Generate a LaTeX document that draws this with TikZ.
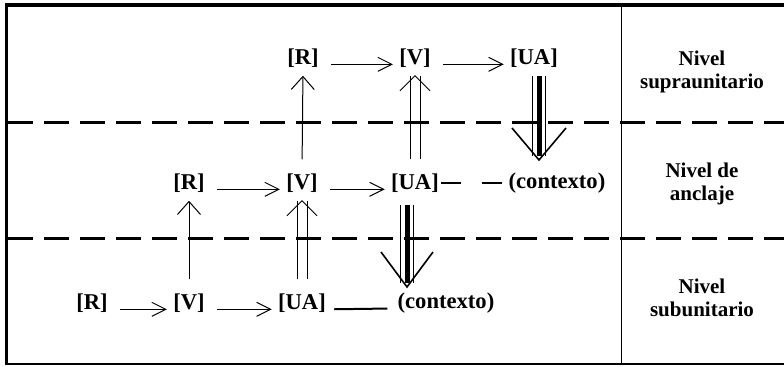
\documentclass[tikz,border=0pt]{standalone}
\usepackage{fontspec}
\setmainfont{Liberation Serif}
\usetikzlibrary{arrows.meta}

\begin{document}
\begin{tikzpicture}[x=0.5pt,y=-0.5pt,
  unit/.style={font=\fontsize{11.3}{13}\selectfont\bfseries,inner sep=1pt},
  level/.style={font=\fontsize{10.5}{11.5}\selectfont\bfseries,align=center},
  harrow/.style={-{Straight Barb[length=7pt,width=7pt]},line width=.5pt,shorten <=5pt,shorten >=2pt},
  varrow/.style={-{Straight Barb[length=6.5pt,width=11.5pt]},line width=.5pt,shorten <=6pt,shorten >=3pt},
  dblline/.style={double,double distance=4.5pt,line width=.5pt,shorten <=6pt,shorten >=3pt},
  heavy/.style={double,double distance=6pt,line width=.6pt,shorten <=3pt},
  core/.style={line width=2.5pt,shorten <=3pt},
  divider/.style={dash pattern=on 12.5pt off 5.5pt,line width=1.5pt}]

  \useasboundingbox (0,0) rectangle (784,366);

  % frame
  \draw[line width=2pt] (5,5) -- (784,5);
  \draw[line width=1.5pt] (6,4) -- (6,365);
  \draw[line width=1pt] (6,364) -- (784,364);
  \draw[line width=.5pt] (621,5) -- (621,364);

  % supraunitario
  \node[unit] (rt) at (303,58) {[R]};
  \node[unit] (vt) at (415,58) {[V]};
  \node[unit] (uat) at (534,58) {[UA]};
  % anclaje
  \node[unit] (rm) at (189,183) {[R]};
  \node[unit] (vm) at (302,183) {[V]};
  \node[unit] (uam) at (415,183) {[UA]};
  \node[unit] (cm) at (557,183) {(contexto)};
  % subunitario
  \node[unit] (rb) at (92,303) {[R]};
  \node[unit] (vb) at (189,303) {[V]};
  \node[unit] (uab) at (302,303) {[UA]};
  \node[unit] (cb) at (446,303) {(contexto)};

  % levels
  \node[level] (sup) at (702,72) {Nivel\\supraunitario};
  \node[level] (anc) at (702,184) {Nivel de\\anclaje};
  \node[level] (sub) at (702,298) {Nivel\\subunitario};

  % horizontal
  \draw[harrow] (rt.base east) -- (vt.base west);
  \draw[harrow] (vt.base east) -- (uat.base west);
  \draw[harrow] (rm.base east) -- (vm.base west);
  \draw[harrow] (vm.base east) -- (uam.base west);
  \draw[harrow] (rb.base east) -- (vb.base west);
  \draw[harrow] (vb.base east) -- (uab.base west);
  \draw[line width=1pt,dash pattern=on 10pt off 10.5pt] (uam.east) -- (cm.west);
  \draw[line width=1pt,shorten <=3pt,shorten >=4pt] (uab.base east) -- (cb.base west);

  % upwards
  \draw[varrow] (vm.north) -- (rt.south);
  \draw[varrow] (vb.north) -- (rm.south);
  \draw[dblline] (uam.north) -- (vt.south);
  \draw[line width=.5pt] ([yshift=-3pt]vt.south) ++(-15,15) -- ++(15,-15) -- ++(15,15);
  \draw[dblline] (uab.north) -- (vm.south);
  \draw[line width=.5pt] ([yshift=-3pt]vm.south) ++(-15,15) -- ++(15,-15) -- ++(15,15);

  % downwards
  \coordinate (tipa) at (539,160);
  \coordinate (tipb) at (407,287);
  \draw[heavy] (uat.south -| tipa) -- ([yshift=2pt]tipa);
  \draw[core] (uat.south -| tipa) -- ([yshift=2pt]tipa);
  \draw[line width=.8pt] (tipa) ++(-27,-32) -- ++(27,32) -- ++(27,-32);
  \draw[heavy,shorten <=5pt] (uam.south -| tipb) -- ([yshift=2pt]tipb);
  \draw[core,shorten <=5pt] (uam.south -| tipb) -- ([yshift=2pt]tipb);
  \draw[line width=.8pt] (tipb) ++(-26,-35) -- ++(26,35) -- ++(26,-35);

  % level borders
  \draw[divider] (8,122) -- (784,122);
  \draw[divider] (8,238) -- (784,238);
\end{tikzpicture}
\end{document}
